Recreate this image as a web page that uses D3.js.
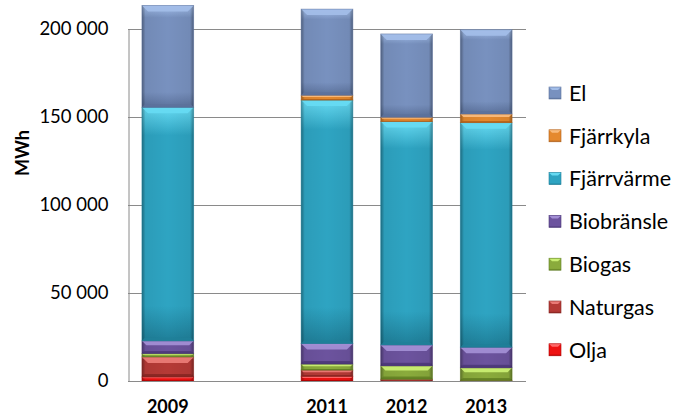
<!DOCTYPE html>
<html><head><meta charset="utf-8">
<script src="https://cdn.jsdelivr.net/npm/d3@7"></script>
<style>
html,body{margin:0;padding:0;background:#fff;}
svg{display:block;font-family:Lato,"Open Sans",sans-serif;}
</style></head>
<body><svg id="c" width="686" height="419"></svg>
<script>
const years = ["2009","2010","2011","2012","2013"];
const yearLabels = ["2009","","2011","2012","2013"];
const seriesNames = ["Olja","Naturgas","Biogas","Biobränsle","Fjärrvärme","Fjärrkyla","El"];
const olja       = [2300, 0, 2700,    0,    0];
const naturgas   = [11400, 0, 3500, 1000,  300];
const biogas     = [1900, 0, 3400, 7600, 7200];
const biobransle = [7200, 0, 11700, 11900, 11700];
const fjarrvarme = [132700, 0, 138300, 126900, 127600];
const fjarrkyla  = [0, 0, 2800, 2500, 4900];
const el         = [57900, 0, 48900, 47300, 47900];
const yTicks = [0, 50000, 100000, 150000, 200000];
const legendOrder = ["El","Fjärrkyla","Fjärrvärme","Biobränsle","Biogas","Naturgas","Olja"];

const seriesValues = [olja, naturgas, biogas, biobransle, fjarrvarme, fjarrkyla, el];
const colors = {
  "Olja":      {base:"#ee1212", light:"#ff6a6a", dark:"#b00000"},
  "Naturgas":  {base:"#b53a36", light:"#ea7a76", dark:"#862522"},
  "Biogas":    {base:"#8aab3c", light:"#c9ee72", dark:"#5f7d22"},
  "Biobränsle":{base:"#6c539e", light:"#a28ed4", dark:"#4b3777"},
  "Fjärrvärme":{base:"#2ea4c2", light:"#66daf2", dark:"#1f7f99"},
  "Fjärrkyla": {base:"#e5892e", light:"#f9bb7c", dark:"#b0601a"},
  "El":        {base:"#7891bf", light:"#a2bde8", dark:"#5c729c"}
};

const table = years.map((y,i)=>{
  const o = {year:y};
  seriesNames.forEach((s,j)=>o[s]=seriesValues[j][i]);
  return o;
});

const svg = d3.select("#c");
const plot = {left:128, right:526, top:29, bottom:381};

const x = d3.scaleBand().domain(years).range([plot.left, plot.right]).paddingInner(0.35).paddingOuter(0.175);
const y = d3.scaleLinear().domain([0,200000]).range([plot.bottom, plot.top]);

const defs = svg.append("defs");
seriesNames.forEach((s,i)=>{
  const c = colors[s];
  const g = defs.append("linearGradient").attr("id","g"+i).attr("x1",0).attr("y1",0).attr("x2",0).attr("y2",1);
  g.append("stop").attr("offset","0%").attr("stop-color",c.light);
  g.append("stop").attr("offset","12%").attr("stop-color",c.base);
  g.append("stop").attr("offset","85%").attr("stop-color",c.base);
  g.append("stop").attr("offset","100%").attr("stop-color",c.dark);
});
const side = defs.append("linearGradient").attr("id","side").attr("x1",0).attr("y1",0).attr("x2",1).attr("y2",0);
[[0,0.35],[0.07,0.05],[0.5,0],[0.93,0.05],[1,0.35]].forEach(([o,a])=>
  side.append("stop").attr("offset",o).attr("stop-color","#000").attr("stop-opacity",a));

// gridlines
const fmt = v => d3.format(",")(v).replace(/,/g," ");
svg.append("g").selectAll("line").data(yTicks.filter(t=>t>0)).join("line")
  .attr("x1",plot.left).attr("x2",plot.right)
  .attr("y1",d=>y(d)+0.5).attr("y2",d=>y(d)+0.5)
  .attr("stroke","#8a8a8a").attr("stroke-width",1);

// y axis
const yAxis = d3.axisLeft(y).tickValues(yTicks).tickFormat(fmt).tickSize(0).tickPadding(20);
const ga = svg.append("g").attr("transform",`translate(${plot.left+0.5},0)`).call(yAxis);
ga.select(".domain").attr("stroke","#8a8a8a");
ga.selectAll("text").attr("font-size",18.5).attr("fill","#000").attr("font-family","Lato,'Open Sans',sans-serif");

// stacked bars
const stack = d3.stack().keys(seriesNames)(table);
const bars = svg.append("g");
stack.forEach((layer,i)=>{
  const s = seriesNames[i];
  const c = colors[s];
  layer.forEach(d=>{
    const v = d[1]-d[0];
    if(v<=0) return;
    const x0 = x(d.data.year), w = x.bandwidth();
    const yt = y(d[1]), yb = y(d[0]), h = yb-yt;
    const g = bars.append("g");
    g.append("rect").attr("x",x0).attr("y",yt).attr("width",w).attr("height",h).attr("fill",`url(#g${i})`);
    g.append("rect").attr("x",x0).attr("y",yt).attr("width",w).attr("height",h).attr("fill","url(#side)");
    const b = Math.min(6, h*0.35);
    g.append("polygon").attr("points",[[x0,yt],[x0+w,yt],[x0+w-b,yt+b],[x0+b,yt+b]].map(p=>p.join(",")).join(" "))
      .attr("fill",c.light).attr("opacity",0.95);
    const bb = Math.min(3, h*0.2);
    g.append("polygon").attr("points",[[x0,yb],[x0+w,yb],[x0+w-bb,yb-bb],[x0+bb,yb-bb]].map(p=>p.join(",")).join(" "))
      .attr("fill",c.dark).attr("opacity",0.8);
    g.append("rect").attr("x",x0).attr("y",yt).attr("width",w).attr("height",h)
      .attr("fill","none").attr("stroke",c.dark).attr("stroke-opacity",0.6).attr("stroke-width",0.8);
  });
});

// baseline
svg.append("line").attr("x1",plot.left).attr("x2",plot.right)
  .attr("y1",plot.bottom+0.5).attr("y2",plot.bottom+0.5).attr("stroke","#8a8a8a");

// x labels
const xAxis = d3.axisBottom(x).tickFormat((d,i)=>yearLabels[i]).tickSize(0).tickPadding(19);
const gx = svg.append("g").attr("transform",`translate(0,${plot.bottom})`).call(xAxis);
gx.select(".domain").remove();
gx.selectAll("text").attr("font-size",18).attr("font-weight","bold").attr("fill","#000")
  .attr("font-family","Lato,'Open Sans',sans-serif");

// y title
svg.append("text").attr("transform","translate(29,153) rotate(-90)").attr("text-anchor","middle")
  .attr("font-size",18).attr("font-weight","bold").attr("fill","#000").text("MWh");

// legend
const lg = svg.append("g");
legendOrder.forEach((s,i)=>{
  const i0 = seriesNames.indexOf(s);
  const c = colors[s];
  const cy = 93 + i*42.8;
  const gg = lg.append("g");
  gg.append("rect").attr("x",549).attr("y",cy-6).attr("width",12).attr("height",12).attr("fill",`url(#g${i0})`);
  gg.append("polygon").attr("points",`549,${cy-6} 561,${cy-6} 558,${cy-3} 552,${cy-3}`).attr("fill",c.light);
  gg.append("rect").attr("x",549).attr("y",cy-6).attr("width",12).attr("height",12).attr("fill","none").attr("stroke",c.dark).attr("stroke-width",0.6);
  gg.append("text").attr("x",569).attr("y",cy).attr("dy","0.36em").attr("font-size",21.5).attr("fill","#000").text(s);
});
</script></body></html>
